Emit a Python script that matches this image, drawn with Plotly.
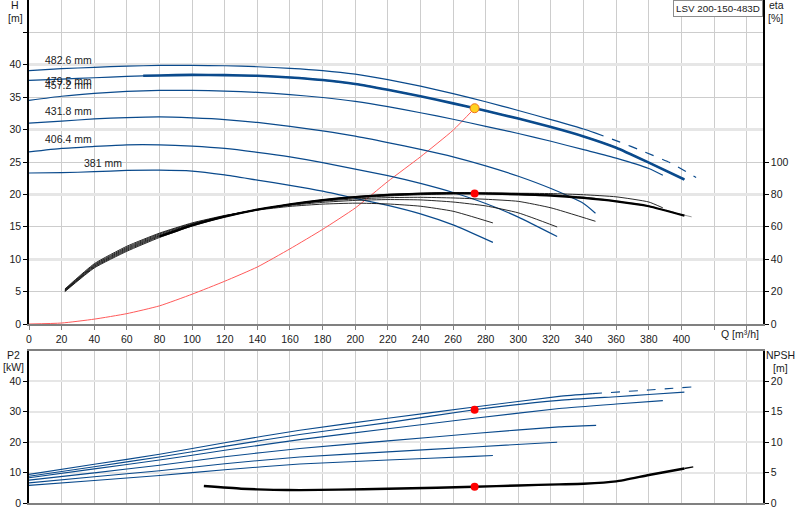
import plotly.graph_objects as go

# pump curve sheet: head + efficiency on top, P2 + NPSH below

BLUE = "#0a4a8c"
GRID = "#cdcdcd"
GRID_LIGHT = "#e6e6e6"
FONT = "Liberation Sans"

# --- head curves, Q in m3/h, H in m ---
q_381 = [0, 20, 40, 60, 80, 100, 120, 140, 160, 180, 200, 220, 240, 260, 284.4]
h_381 = [23.3, 23.35, 23.5, 23.7, 23.75, 23.6, 23.0, 22.2, 21.4, 20.5, 19.4, 18.3, 17.0, 15.3, 12.6]

q_406 = [0, 20, 40, 60, 80, 100, 120, 140, 160, 180, 200, 220, 240, 260, 280, 300, 323.8]
h_406 = [26.55, 27.1, 27.4, 27.65, 27.65, 27.45, 27.1, 26.5, 25.8, 24.9, 23.9, 22.9, 21.7, 20.3, 18.6, 16.5, 13.5]

q_431 = [0, 20, 40, 60, 80, 100, 120, 140, 160, 180, 200, 220, 240, 260, 280, 300, 320, 340, 347.3]
h_431 = [31.0, 31.3, 31.65, 31.85, 31.95, 31.8, 31.55, 31.1, 30.5, 29.8, 29.0, 28.0, 26.95, 25.8, 24.4, 22.8, 20.9, 18.6, 17.1]

q_457 = [0, 20, 40, 60, 80, 100, 120, 140, 160, 180, 200, 220, 240, 260, 280, 300, 320, 340, 360, 380, 388.6]
h_457 = [34.5, 35.15, 35.6, 35.9, 36.05, 36.05, 35.95, 35.75, 35.4, 34.95, 34.35, 33.55, 32.6, 31.6, 30.5, 29.4, 28.2, 26.9, 25.6, 24.0, 22.95]

q_479 = [0, 20, 40, 60, 70, 80, 100, 120, 140, 160, 180, 200, 220, 240, 260, 280, 300, 320, 340, 360, 380, 401.8]
h_479 = [37.6, 37.8, 38.0, 38.2, 38.3, 38.35, 38.45, 38.4, 38.3, 38.05, 37.65, 37.05, 36.15, 35.15, 34.05, 32.9, 31.7, 30.4, 28.95, 27.2, 24.9, 22.3]

q_482 = [0, 20, 40, 60, 80, 100, 120, 140, 160, 180, 200, 220, 240, 260, 280, 300, 320, 340, 347]
h_482 = [39.1, 39.4, 39.6, 39.8, 39.9, 39.9, 39.85, 39.7, 39.45, 39.1, 38.55, 37.7, 36.7, 35.55, 34.3, 32.95, 31.55, 30.1, 29.5]
q_482_ext = [347, 362, 376, 393, 409]
h_482_ext = [29.5, 28.1, 26.7, 24.9, 22.6]

# --- efficiency curves, eta in % ---
q_eta_low = [22, 40, 60, 80, 100, 120, 140, 160, 180, 200]
eta_381 = [21.6, 37.2, 48.0, 56.1, 62.4, 67.0, 70.3, 72.6, 74.0, 74.6, 74.1, 72.7, 69.6, 62.4]
q_eta_381 = q_eta_low + [220, 240, 260, 284.4]
eta_406 = [21.2, 36.6, 47.3, 55.6, 62.0, 66.8, 70.5, 73.2, 75.1, 76.3, 76.8, 76.6, 75.3, 72.9, 68.6, 59.9]
q_eta_406 = q_eta_low + [220, 240, 260, 280, 300, 323.8]
eta_431 = [20.9, 36.1, 46.7, 55.0, 61.6, 66.7, 70.7, 73.6, 75.8, 77.2, 78.0, 78.2, 77.8, 77.0, 75.7, 71.7, 63.4]
q_eta_431 = q_eta_low + [220, 240, 260, 280, 300, 320, 347.3]
eta_457 = [20.6, 35.6, 46.1, 54.5, 61.3, 66.5, 70.7, 73.8, 76.2, 77.9, 79.0, 79.8, 80.3, 80.6, 80.7, 80.5, 79.8, 78.5, 75.3, 71.7]
q_eta_457 = q_eta_low + [220, 240, 260, 280, 300, 320, 340, 360, 380, 388.6]
eta_479 = [20.3, 35.1, 45.5, 54.0, 60.9, 66.3, 70.6, 73.9, 76.5, 78.4, 79.7, 80.4, 80.7, 80.5, 80.0, 79.3, 77.8, 75.7, 72.7, 66.9]
q_eta_479 = q_eta_low + [220, 240, 260, 280, 300, 320, 340, 360, 380, 401.8]
eta_482 = [20.0, 34.6, 44.9, 53.4, 60.5, 66.1, 70.5, 73.9, 76.6, 78.6, 80.0, 80.8, 81.1, 81.0, 80.6, 79.8, 78.3, 77.6]
q_eta_482 = q_eta_low + [220, 240, 260, 280, 300, 320, 340, 347]
q_eta_482_ext = [347, 360, 380, 401.8, 409]
eta_482_ext = [77.6, 76.0, 73.0, 67.2, 65.5]

# system curve and duty point
q_sys = [0, 20, 40, 60, 80, 100, 120, 140, 160, 180, 200, 220, 240, 260, 273.2]
h_sys = [0, 0.15, 0.75, 1.6, 2.8, 4.6, 6.6, 8.8, 11.6, 14.6, 17.9, 22.0, 25.8, 29.9, 33.3]
duty_q = 273.2
duty_h = 33.3
duty_eta = 80.5
duty_p2 = 30.6
duty_npsh = 2.67

# --- power P2 in kW ---
q_p2_381 = [0, 40, 80, 120, 166, 220, 273, 284.4]
p2_381 = [5.8, 7.4, 9.05, 10.9, 12.8, 14.1, 15.3, 15.6]
q_p2_406 = [0, 40, 80, 120, 166, 220, 273, 323.8]
p2_406 = [6.6, 8.6, 10.6, 12.9, 15.1, 16.8, 18.4, 19.95]
q_p2_431 = [0, 40, 80, 120, 166, 220, 273, 325, 347.7]
p2_431 = [7.5, 9.9, 12.4, 15.2, 17.9, 20.4, 22.8, 25.0, 25.5]
q_p2_457 = [0, 40, 80, 120, 166, 220, 273, 325, 360, 388.6]
p2_457 = [8.3, 11.2, 14.1, 17.3, 20.8, 24.4, 27.8, 31.0, 32.5, 33.6]
q_p2_479 = [0, 40, 80, 120, 166, 220, 273, 325, 360, 380, 401.8]
p2_479 = [8.8, 11.9, 15.1, 18.6, 22.5, 26.4, 30.6, 33.7, 34.9, 35.6, 36.4]
q_p2_482 = [0, 40, 80, 120, 166, 220, 273, 325, 345.7]
p2_482 = [9.4, 12.7, 16.0, 19.8, 23.9, 27.8, 31.5, 35.0, 35.9]
q_p2_482_ext = [345.7, 380, 408.6]
p2_482_ext = [35.9, 37.1, 38.2]

# --- NPSH in m ---
q_npsh = [107.2, 130, 150, 166, 190, 220, 250, 273, 300, 325, 340, 360, 380, 401.8]
npsh = [2.78, 2.35, 2.15, 2.12, 2.2, 2.34, 2.5, 2.67, 2.88, 3.06, 3.16, 3.55, 4.6, 5.67]
q_npsh_ext = [401.8, 410]
npsh_ext = [5.67, 6.05]

diam_labels = ["482.6 mm", "479.5 mm", "457.2 mm", "431.8 mm", "406.4 mm", "381 mm"]
label_q = [8.6, 8.6, 8.6, 8.6, 8.6, 32.5]
label_h = [40.7, 37.5, 36.9, 32.8, 28.5, 24.8]

grid_q = list(range(0, 441, 20))
q_ticktext = [str(v) if v <= 400 else "" for v in grid_q]


fig = go.Figure()


def add_line(q, v, xaxis="x", yaxis="y", color=BLUE, width=1.2, dash="solid"):
    fig.add_trace(
        go.Scatter(
            x=q, y=v, mode="lines", xaxis=xaxis, yaxis=yaxis,
            line=dict(color=color, width=width, dash=dash, shape="spline", smoothing=0.5),
            hoverinfo="skip", showlegend=False,
        )
    )


# grid helper trace for the lighter, wider horizontal lines
fig.add_trace(go.Scatter(x=[], y=[], xaxis="x", yaxis="y3", showlegend=False))

# efficiency bundle (right axis)
for q, e in [(q_eta_381, eta_381), (q_eta_406, eta_406), (q_eta_431, eta_431),
             (q_eta_457, eta_457), (q_eta_482, eta_482), (q_eta_479, eta_479)]:
    add_line(q, e, yaxis="y2", color="#111111", width=0.9)
add_line(q_eta_482_ext, eta_482_ext, yaxis="y2", color="#999999", width=1, dash="dash")
add_line(q_eta_479[3:], eta_479[3:], yaxis="y2", color="#000000", width=2.2)

# system curve
add_line(q_sys, h_sys, color="#ff5a5a", width=1)

# head curves
for q, h in [(q_381, h_381), (q_406, h_406), (q_431, h_431), (q_457, h_457), (q_479, h_479), (q_482, h_482)]:
    add_line(q, h)
add_line(q_482_ext, h_482_ext, width=1.2, dash="dash")
add_line(q_479[4:], h_479[4:], width=2.6)

fig.add_trace(go.Scatter(x=[duty_q], y=[duty_h], mode="markers", xaxis="x", yaxis="y",
                         marker=dict(size=9, color="#ffd21f", line=dict(color="#f07020", width=1)),
                         hoverinfo="skip", showlegend=False))
fig.add_trace(go.Scatter(x=[duty_q], y=[duty_eta], mode="markers", xaxis="x", yaxis="y2",
                         marker=dict(size=8, color="#ff0000"), hoverinfo="skip", showlegend=False))

# power curves
for q, p in [(q_p2_381, p2_381), (q_p2_406, p2_406), (q_p2_431, p2_431),
             (q_p2_457, p2_457), (q_p2_479, p2_479), (q_p2_482, p2_482)]:
    add_line(q, p, xaxis="x2", yaxis="y4", width=1.1)
add_line(q_p2_482_ext, p2_482_ext, xaxis="x2", yaxis="y4", width=1.1, dash="dash")

# NPSH
add_line(q_npsh, npsh, xaxis="x2", yaxis="y5", color="#000000", width=2.4)
add_line(q_npsh_ext, npsh_ext, xaxis="x2", yaxis="y5", color="#000000", width=1.4, dash="dash")

fig.add_trace(go.Scatter(x=[duty_q], y=[duty_p2], mode="markers", xaxis="x2", yaxis="y4",
                         marker=dict(size=8, color="#ff0000"), hoverinfo="skip", showlegend=False))
fig.add_trace(go.Scatter(x=[duty_q], y=[duty_npsh], mode="markers", xaxis="x2", yaxis="y5",
                         marker=dict(size=8, color="#ff0000"), hoverinfo="skip", showlegend=False))

annotations = []
for txt, lq, lh in zip(diam_labels, label_q, label_h):
    annotations.append(dict(x=lq, y=lh, xref="x", yref="y", text=txt, showarrow=False,
                            xanchor="left", yanchor="middle", font=dict(size=10.5)))


def paper_note(text, px, py, anchor="center", size=10.5):
    annotations.append(dict(x=(px - 29) / 734, y=(503 - py) / 503, xref="paper", yref="paper",
                            text=text, showarrow=False, xanchor=anchor, yanchor="middle",
                            font=dict(size=size)))


paper_note("H", 15, 5)
paper_note("[m]", 15, 18)
paper_note("eta", 776, 5)
paper_note("[%]", 775, 18)
paper_note("Q [m³/h]", 740, 334)
paper_note("P2", 13, 355)
paper_note("[kW]", 13, 367)
paper_note("NPSH", 780, 355)
paper_note("[m]", 780, 368)

annotations.append(dict(x=1, y=1, xref="paper", yref="paper", text="LSV 200-150-483D",
                        showarrow=False, xanchor="right", yanchor="top", bgcolor="white",
                        bordercolor="#8c8c8c", borderwidth=1, borderpad=2, font=dict(size=9.8)))

top_dom = [(503 - 324) / 503, 1]
bot_dom = [0, (503 - 350.7) / 503]

fig.update_layout(
    width=800, height=520,
    margin=dict(l=29, r=37, t=0, b=17, autoexpand=False),
    paper_bgcolor="white", plot_bgcolor="white",
    font=dict(family=FONT, size=10.5, color="#1a1a1a"),
    annotations=annotations,
    xaxis=dict(domain=[0, 1], anchor="y", range=[0, 450], tickmode="array",
               tickvals=grid_q, ticktext=q_ticktext, ticks="outside", ticklen=4,
               tickcolor="#808080", showline=True, linecolor="#808080", linewidth=2,
               showgrid=True, gridcolor=GRID, gridwidth=1, zeroline=False, automargin=False),
    yaxis=dict(domain=top_dom, anchor="x", range=[0, 50], tickmode="array",
               tickvals=list(range(0, 46, 5)),
               ticktext=[str(v) if v <= 40 else "" for v in range(0, 46, 5)],
               ticks="outside", ticklen=4, tickcolor="#000000", showline=True,
               linecolor="#000000", linewidth=1.5, gridcolor=GRID, gridwidth=1,
               zeroline=False, automargin=False),
    yaxis2=dict(overlaying="y", side="right", anchor="x", range=[0, 200], tickmode="array",
                tickvals=list(range(0, 101, 20)), ticks="outside", ticklen=4,
                tickcolor="#000000", showline=True, linecolor="#000000", linewidth=1.5,
                showgrid=False, zeroline=False, automargin=False),
    yaxis3=dict(overlaying="y", anchor="x", range=[0, 50], tickmode="array",
                tickvals=[10, 20, 30, 40], showticklabels=False, ticks="",
                showline=False, gridcolor=GRID_LIGHT, gridwidth=3, zeroline=False,
                automargin=False),
    xaxis2=dict(domain=[0, 1], anchor="y4", range=[0, 450], tickmode="array",
                tickvals=grid_q, showticklabels=False, ticks="", showline=True,
                linecolor="#808080", linewidth=2, mirror=True, gridcolor=GRID,
                gridwidth=1, zeroline=False, automargin=False),
    yaxis4=dict(domain=bot_dom, anchor="x2", range=[0, 50], tickmode="array",
                tickvals=[0, 10, 20, 30, 40], ticks="outside", ticklen=4,
                tickcolor="#000000", showline=True, linecolor="#000000", linewidth=1.5,
                gridcolor=GRID_LIGHT, gridwidth=2, zeroline=False, automargin=False),
    yaxis5=dict(overlaying="y4", side="right", anchor="x2", range=[0, 25], tickmode="array",
                tickvals=[0, 5, 10, 15, 20], ticks="outside", ticklen=4,
                tickcolor="#000000", showline=True, linecolor="#000000", linewidth=1.5,
                showgrid=False, zeroline=False, automargin=False),
)

# the page body has a default 8px margin; drop it so the figure sits at the corner
fig.write_html("out.html", config={"displayModeBar": False},
               post_script="document.body.style.margin='0px';")
